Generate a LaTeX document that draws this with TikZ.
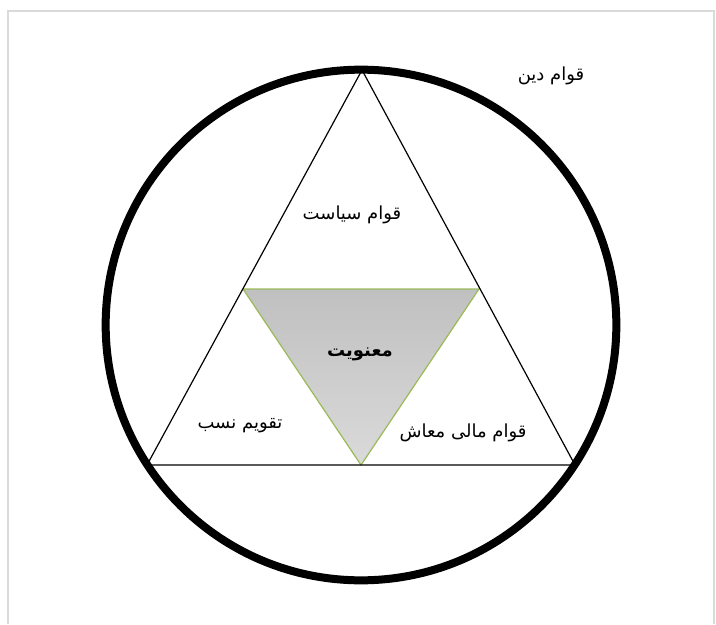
\documentclass[tikz,border=0pt]{standalone}
\usepackage{fontspec}
\newfontfamily\arabicfont[Script=Arabic]{DejaVu Sans}
\TeXXeTstate=1
\usetikzlibrary{shadings}
\definecolor{frame}{RGB}{218,218,218}
\definecolor{olive}{RGB}{155,187,89}
\definecolor{gtop}{RGB}{192,192,192}
\definecolor{gbot}{RGB}{218,218,218}
\begin{document}
\begin{tikzpicture}[x=0.75pt,y=-0.75pt,
  lbl/.style={font=\arabicfont\fontsize{13.5}{16}\selectfont, inner sep=0pt},
  ring/.style={line width=6pt},
  tri/.style={line width=0.9pt, line join=miter},
  inner/.style={top color=gtop, bottom color=gbot}]
\useasboundingbox (0,0) rectangle (716,624);
\draw[frame, line width=1.5pt] (8,624) -- (8,11) -- (714,11) -- (714,624);
% outer circle
\coordinate (O) at (361,325);
\draw[ring] (O) circle [radius=191.5pt];
% outer triangle
\coordinate (T) at (362,70);
\coordinate (L) at (147,465);
\coordinate (R) at (575,465);
% inner triangle
\coordinate (IL) at (243,289);
\coordinate (IR) at (479,289);
\coordinate (IB) at (361,465);
\fill[inner] (IL) -- (IR) -- (IB) -- cycle;
\draw[olive, line width=0.9pt] (IL) -- (IR) -- (IB) -- cycle;
\draw[tri] (T) -- (L) -- (R) -- cycle;
% labels
\node[lbl] (din) at (551,76) {\beginR قوام دین\endR};
\node[lbl] (siasat) at (352,215) {\beginR قوام سیاست\endR};
\node[lbl, font=\arabicfont\bfseries\fontsize{13.5}{16}\selectfont] (manaviat) at (360,354) {\beginR معنویت\endR};
\node[lbl] (nasab) at (240,426) {\beginR تقویم نسب\endR};
\node[lbl] (maash) at (463,433) {\beginR قوام مالی معاش\endR};
\end{tikzpicture}
\end{document}
